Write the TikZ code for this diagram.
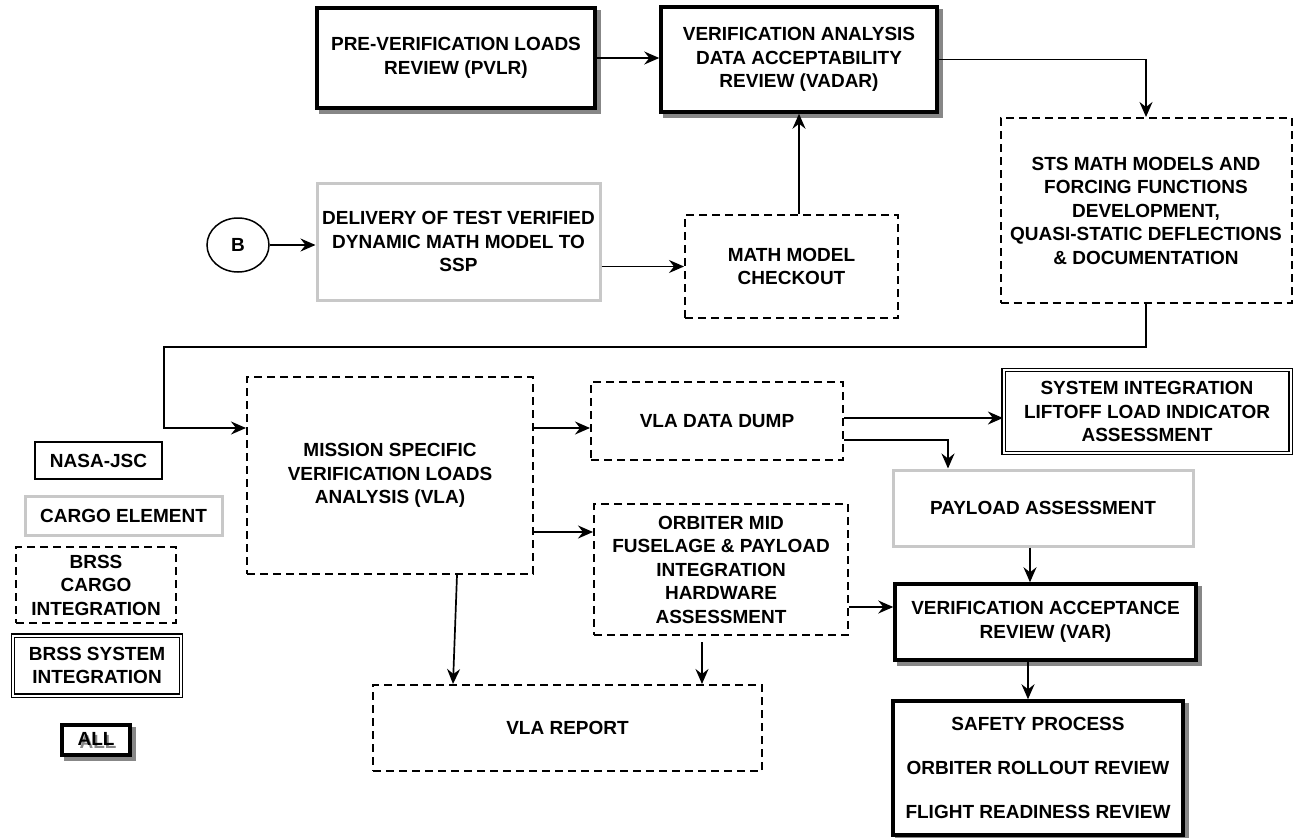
\documentclass[tikz,border=0pt]{standalone}
\usepackage{fontspec}
\setmainfont{Liberation Sans}
\usetikzlibrary{arrows.meta,shapes.geometric,shadows,calc}
\definecolor{boxgray}{RGB}{200,200,200}
\definecolor{shgray}{RGB}{135,135,135}
\begin{document}
\begin{tikzpicture}[x=1pt,y=-1pt,
  font=\fontsize{19}{23.5}\selectfont\bfseries,
  box/.style={rectangle, align=center, inner sep=0pt, fill=white},
  blk/.style={box, draw, line width=3.5pt,
    drop shadow={shadow xshift=4pt, shadow yshift=-4pt, fill=shgray, draw=shgray, line width=3.5pt, opacity=1}},
  gry/.style={box, draw=boxgray, line width=3pt},
  dsh/.style={box, draw, line width=2pt, dash pattern=on 8pt off 5pt},
  dbl/.style={box, draw, double, double distance=2pt, line width=1.2pt},
  thn/.style={box, draw, line width=1.5pt},
  arr/.style={-{Stealth[length=15pt,width=13pt,inset=5pt]}, line width=1.7pt}]
\useasboundingbox (0,0) rectangle (1294,838);

% main nodes
\node[blk, minimum width=278, minimum height=100] (pvlr) at (456,58) {PRE-VERIFICATION LOADS\\REVIEW (PVLR)};
\node[blk, minimum width=276, minimum height=105] (vadar) at (799,59.5) {VERIFICATION ANALYSIS\\DATA ACCEPTABILITY\\REVIEW (VADAR)};
\node[dsh, minimum width=291, minimum height=185] (sts) at (1146,210.5) {STS MATH MODELS AND\\FORCING FUNCTIONS\\DEVELOPMENT,\\QUASI-STATIC DEFLECTIONS\\\& DOCUMENTATION};
\node[ellipse, draw, line width=1.5pt, minimum width=62, minimum height=54, inner sep=0pt] (b) at (238,245) {B};
\node[gry, minimum width=283, minimum height=117] (deliv) at (458.5,241.5) {DELIVERY OF TEST VERIFIED\\DYNAMIC MATH MODEL TO\\SSP};
\node[dsh, minimum width=213, minimum height=103] (math) at (791.5,266.5) {MATH MODEL\\CHECKOUT};
\node[dsh, minimum width=286, minimum height=197] (mission) at (390,475.5) {MISSION SPECIFIC\\VERIFICATION LOADS\\ANALYSIS (VLA)};
\node[dsh, minimum width=252, minimum height=78] (dump) at (717,421) {VLA DATA DUMP};
\node[dsh, minimum width=254, minimum height=131] (orbiter) at (721,569.5) {ORBITER MID\\FUSELAGE \& PAYLOAD\\INTEGRATION\\HARDWARE\\ASSESSMENT};
\node[dbl, minimum width=287, minimum height=83] (sysint) at (1147,411.5) {SYSTEM INTEGRATION\\LIFTOFF LOAD INDICATOR\\ASSESSMENT};
\node[gry, minimum width=300, minimum height=76] (payload) at (1043,508) {PAYLOAD ASSESSMENT};
\node[blk, minimum width=301, minimum height=76] (var) at (1045.5,622) {VERIFICATION ACCEPTANCE\\REVIEW (VAR)};
\node[blk, minimum width=290, minimum height=134, font=\fontsize{19}{44}\selectfont\bfseries] (safety) at (1038,768) {SAFETY PROCESS\\ORBITER ROLLOUT REVIEW\\FLIGHT READINESS REVIEW};
\node[dsh, minimum width=389, minimum height=86] (report) at (567.5,728) {VLA REPORT};

% legend
\node[thn, minimum width=127, minimum height=37] (lnasa) at (98.5,460.5) {NASA-JSC};
\node[gry, minimum width=197, minimum height=39] (lcargo) at (123.5,515.5) {CARGO ELEMENT};
\node[dsh, minimum width=160, minimum height=76] (lbrssc) at (96,585) {BRSS\\CARGO\\INTEGRATION};
\node[dbl, minimum width=168, minimum height=60] (lbrsss) at (97,665.5) {BRSS SYSTEM\\INTEGRATION};
\node[blk, minimum width=68, minimum height=30] (lall) at (96,740) {\rlap{\color{shgray}\kern2pt\raisebox{-3pt}{ALL}}ALL};

% connectors
\draw[arr] (pvlr.east) -- (vadar.west |- pvlr.east);
\draw[arr] (vadar.east) -| (sts.north);
\draw[arr] (b.east) -- (deliv.west |- b.east);
\draw[arr] (deliv.east |- math.west) -- (math.west);
\draw[arr] (math.north -| vadar.south) -- (vadar.south);
\coordinate (bend) at (164,347);
\coordinate (minw) at ($(mission.west)+(0,-47.5)$);
\draw[arr] (sts.south) |- (bend) |- (minw);
\coordinate (me1) at ($(mission.east)+(0,-47.5)$);
\coordinate (me2) at ($(mission.east)+(0,56.5)$);
\draw[arr] (me1) -- (me1 -| dump.west);
\draw[arr] (me2) -- (me2 -| orbiter.west);
\coordinate (de1) at ($(dump.east)+(0,-3)$);
\coordinate (de2) at ($(dump.east)+(0,19)$);
\coordinate (pn) at ($(payload.north)+(-95,0)$);
\draw[arr] (de1) -- (de1 -| sysint.west);
\draw[arr] (de2) -| (pn);
\coordinate (ps) at ($(payload.south)+(-13,0)$);
\draw[arr] (ps) -- (ps |- var.north);
\coordinate (vw) at ($(var.west)+(0,-15)$);
\draw[arr] (vw -| orbiter.east) -- (vw);
\coordinate (vs) at ($(var.south)+(-17.5,0)$);
\draw[arr] (vs) -- (vs |- safety.north);
\draw[arr] ($(mission.south)+(67,0)$) -- ($(report.north)+(-114.5,0)$);
\coordinate (os) at ($(orbiter.south)+(-19,6)$);
\draw[arr] (os) -- (os |- report.north);
\end{tikzpicture}
\end{document}
